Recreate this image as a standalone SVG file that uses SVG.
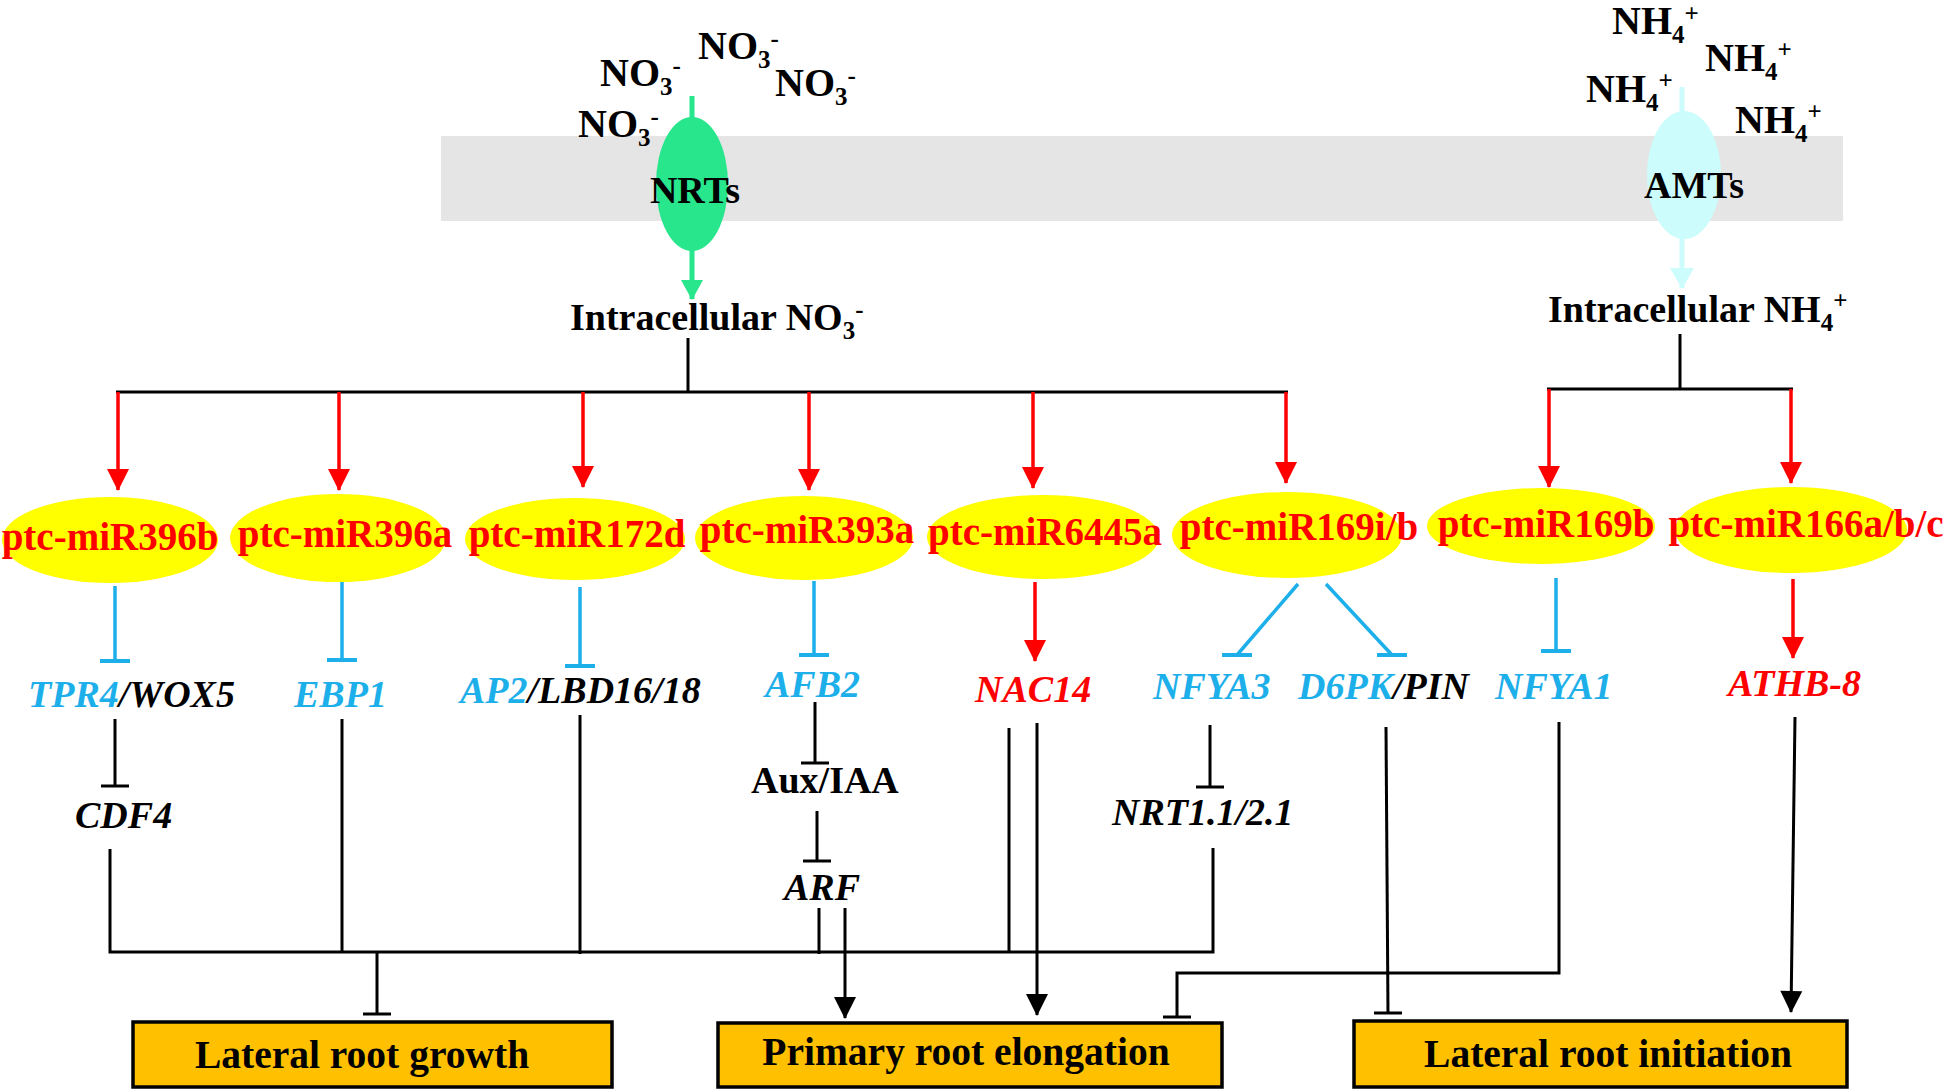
<svg xmlns="http://www.w3.org/2000/svg" width="1952" height="1089" viewBox="0 0 1952 1089">
<style>
.t{font-family:"Liberation Serif","Times New Roman",serif;font-weight:bold;fill:#000}
.ion{font-size:40px}
.sub{font-size:25px}
.mi{font-size:39px;fill:#FF0000;text-anchor:middle}
.g{font-size:38px;font-style:italic}
.bl{fill:#1DAFEA}
.rd{fill:#FF0000}
.box{fill:#FFC000;stroke:#000;stroke-width:3.5}
.boxt{font-size:39.5px;text-anchor:middle}
.mir{fill:#FFFF00}
.kl{fill:none;stroke:#000;stroke-width:3}
.rl{fill:none;stroke:#FF0000;stroke-width:3.5;marker-end:url(#ah-red)}
.bi{fill:none;stroke:#1DAFEA;stroke-width:3.5;marker-end:url(#tb-blue)}
.ki{fill:none;stroke:#000;stroke-width:3;marker-end:url(#tb-black)}
.ka{fill:none;stroke:#000;stroke-width:3;marker-end:url(#ah-black)}
</style>
<defs>
<marker id="ah-red" markerUnits="userSpaceOnUse" orient="auto" overflow="visible" refX="0" refY="0" markerWidth="1" markerHeight="1"><path d="M1,0 L-21,-11 L-21,11 Z" fill="#FF0000"/></marker>
<marker id="ah-black" markerUnits="userSpaceOnUse" orient="auto" overflow="visible" refX="0" refY="0" markerWidth="1" markerHeight="1"><path d="M1,0 L-21,-11 L-21,11 Z" fill="#000"/></marker>
<marker id="ah-green" markerUnits="userSpaceOnUse" orient="auto" overflow="visible" refX="0" refY="0" markerWidth="1" markerHeight="1"><path d="M1,0 L-19,-11 L-19,11 Z" fill="#28E68C"/></marker>
<marker id="ah-cyan" markerUnits="userSpaceOnUse" orient="auto" overflow="visible" refX="0" refY="0" markerWidth="1" markerHeight="1"><path d="M1,0 L-20,-12 L-20,12 Z" fill="#CCFCFC"/></marker>
<marker id="tb-blue" markerUnits="userSpaceOnUse" orient="0" overflow="visible" refX="0" refY="0" markerWidth="1" markerHeight="1"><path d="M-15,0 H15" stroke="#1DAFEA" stroke-width="4"/></marker>
<marker id="tb-black" markerUnits="userSpaceOnUse" orient="0" overflow="visible" refX="0" refY="0" markerWidth="1" markerHeight="1"><path d="M-14,0 H14" stroke="#000" stroke-width="3"/></marker>
</defs>
<rect width="1952" height="1089" fill="#FFFFFF"/>
<g id="membrane"><rect x="441" y="136" width="1402" height="85" fill="#E5E5E5"/></g>

<g id="ions">
<text class="t ion" x="600" y="86">NO<tspan class="sub" dy="9">3</tspan><tspan class="sub" dy="-21">-</tspan></text>
<text class="t ion" x="698" y="59">NO<tspan class="sub" dy="9">3</tspan><tspan class="sub" dy="-21">-</tspan></text>
<text class="t ion" x="775" y="96">NO<tspan class="sub" dy="9">3</tspan><tspan class="sub" dy="-21">-</tspan></text>
<text class="t ion" x="578" y="137">NO<tspan class="sub" dy="9">3</tspan><tspan class="sub" dy="-21">-</tspan></text>
<text class="t ion" x="1612" y="34">NH<tspan class="sub" dy="9">4</tspan><tspan class="sub" dy="-21">+</tspan></text>
<text class="t ion" x="1705" y="71">NH<tspan class="sub" dy="9">4</tspan><tspan class="sub" dy="-22">+</tspan></text>
<text class="t ion" x="1586" y="102">NH<tspan class="sub" dy="9">4</tspan><tspan class="sub" dy="-22">+</tspan></text>
<text class="t ion" x="1735" y="133">NH<tspan class="sub" dy="9">4</tspan><tspan class="sub" dy="-22">+</tspan></text>
</g>

<g id="transport-arrows">
<path d="M692,96 V299" stroke="#28E68C" stroke-width="5" fill="none" marker-end="url(#ah-green)"/>
<path d="M1682,87 V288" stroke="#CCFCFC" stroke-width="5" fill="none" marker-end="url(#ah-cyan)"/>
</g>

<g id="NRTs"><ellipse cx="692" cy="184" rx="36" ry="67" fill="#28E68C"/><text class="t" x="695" y="203" font-size="38" text-anchor="middle" fill="#0A140A">NRTs</text></g>
<g id="AMTs"><ellipse cx="1684" cy="175" rx="37" ry="64" fill="#CCFCFC"/><text class="t" x="1694" y="198" font-size="38" text-anchor="middle" fill="#0A140A">AMTs</text></g>

<g id="intra-NO3"><text class="t" x="570" y="330" font-size="38">Intracellular NO<tspan class="sub" dy="9">3</tspan><tspan class="sub" dy="-21">-</tspan></text></g>
<g id="intra-NH4"><text class="t" x="1548" y="322" font-size="38">Intracellular NH<tspan class="sub" dy="9">4</tspan><tspan class="sub" dy="-22">+</tspan></text></g>

<g id="connectors">
<path class="kl" d="M688,338 V392 M116,392 H1288 M1680,334 V389 M1547,389 H1793"/>
<path class="rl" d="M118,392 V490"/>
<path class="rl" d="M339,392 V490"/>
<path class="rl" d="M583,392 V487"/>
<path class="rl" d="M809,392 V490"/>
<path class="rl" d="M1033,392 V488"/>
<path class="rl" d="M1286,392 V483"/>
<path class="rl" d="M1549,389 V487"/>
<path class="rl" d="M1791,389 V483"/>
<path class="rl" d="M1035,582 V661"/>
<path class="rl" d="M1793,579 V658"/>
<path class="bi" d="M115,586 V661"/>
<path class="bi" d="M342,582 V660"/>
<path class="bi" d="M580,587 V666"/>
<path class="bi" d="M814,581 V655"/>
<path class="bi" d="M1298,584 L1237,655"/>
<path class="bi" d="M1326,584 L1392,655"/>
<path class="bi" d="M1556,578 V651"/>
<path class="ki" d="M115,719 V786"/>
<path class="ki" d="M815,702 V763"/>
<path class="ki" d="M817,811 V861"/>
<path class="ki" d="M1210,725 V787"/>
<path class="ki" d="M377,952 V1014"/>
<path class="ki" d="M1386,727 L1388,1013"/>
<path class="ki" d="M1559,722 V973 H1177 V1017"/>
<path class="kl" d="M110,849 V952 H1213 V848"/>
<path class="kl" d="M342,719 V952"/>
<path class="kl" d="M580,715 V954"/>
<path class="kl" d="M819,908 V954"/>
<path class="kl" d="M1009,728 V953"/>
<path class="ka" d="M845,908 V1018"/>
<path class="ka" d="M1037,723 V1015"/>
<path class="ka" d="M1795,717 L1791,1012"/>
</g>

<g id="miR396b"><ellipse class="mir" cx="110" cy="540" rx="108" ry="43"/><text class="t mi" x="110" y="550">ptc-miR396b</text></g>
<g id="miR396a"><ellipse class="mir" cx="338" cy="538" rx="108" ry="44"/><text class="t mi" x="345" y="547">ptc-miR396a</text></g>
<g id="miR172d"><ellipse class="mir" cx="575" cy="539" rx="110" ry="41"/><text class="t mi" x="577" y="547">ptc-miR172d</text></g>
<g id="miR393a"><ellipse class="mir" cx="804" cy="538" rx="109" ry="42"/><text class="t mi" x="807" y="543">ptc-miR393a</text></g>
<g id="miR6445a"><ellipse class="mir" cx="1043" cy="537" rx="116" ry="42"/><text class="t mi" x="1045" y="545">ptc-miR6445a</text></g>
<g id="miR169ib"><ellipse class="mir" cx="1287" cy="535" rx="115" ry="43"/><text class="t mi" x="1299" y="540">ptc-miR169i/b</text></g>
<g id="miR169b"><ellipse class="mir" cx="1541" cy="526" rx="114" ry="38"/><text class="t mi" x="1546" y="537">ptc-miR169b</text></g>
<g id="miR166abc"><ellipse class="mir" cx="1791" cy="530" rx="116" ry="43"/><text class="t mi" x="1806" y="537">ptc-miR166a/b/c</text></g>

<g id="TPR4-WOX5"><text class="t g" x="28" y="707"><tspan class="bl">TPR4</tspan>/WOX5</text></g>
<g id="EBP1"><text class="t g bl" x="294" y="707">EBP1</text></g>
<g id="AP2-LBD"><text class="t g" x="460" y="703"><tspan class="bl">AP2</tspan>/LBD16/18</text></g>
<g id="AFB2"><text class="t g bl" x="765" y="697">AFB2</text></g>
<g id="NAC14"><text class="t g rd" x="975" y="702">NAC14</text></g>
<g id="NFYA3"><text class="t g bl" x="1153" y="699">NFYA3</text></g>
<g id="D6PK-PIN"><text class="t g" x="1298" y="699"><tspan class="bl">D6PK</tspan>/PIN</text></g>
<g id="NFYA1"><text class="t g bl" x="1495" y="699">NFYA1</text></g>
<g id="ATHB-8"><text class="t g rd" x="1728" y="696">ATHB-8</text></g>
<g id="CDF4"><text class="t g" x="75" y="828">CDF4</text></g>
<g id="AuxIAA"><text class="t" x="751" y="793" font-size="38">Aux/IAA</text></g>
<g id="ARF"><text class="t g" x="784" y="900">ARF</text></g>
<g id="NRT"><text class="t g" x="1112" y="825">NRT1.1/2.1</text></g>

<g id="lateral-root-growth"><rect class="box" x="133" y="1022" width="479" height="65"/><text class="t boxt" x="362" y="1068">Lateral root growth</text></g>
<g id="primary-root-elongation"><rect class="box" x="718" y="1023" width="504" height="64"/><text class="t boxt" x="966" y="1065">Primary root elongation</text></g>
<g id="lateral-root-initiation"><rect class="box" x="1354" y="1021" width="493" height="66"/><text class="t boxt" x="1608" y="1067">Lateral root initiation</text></g>
</svg>
